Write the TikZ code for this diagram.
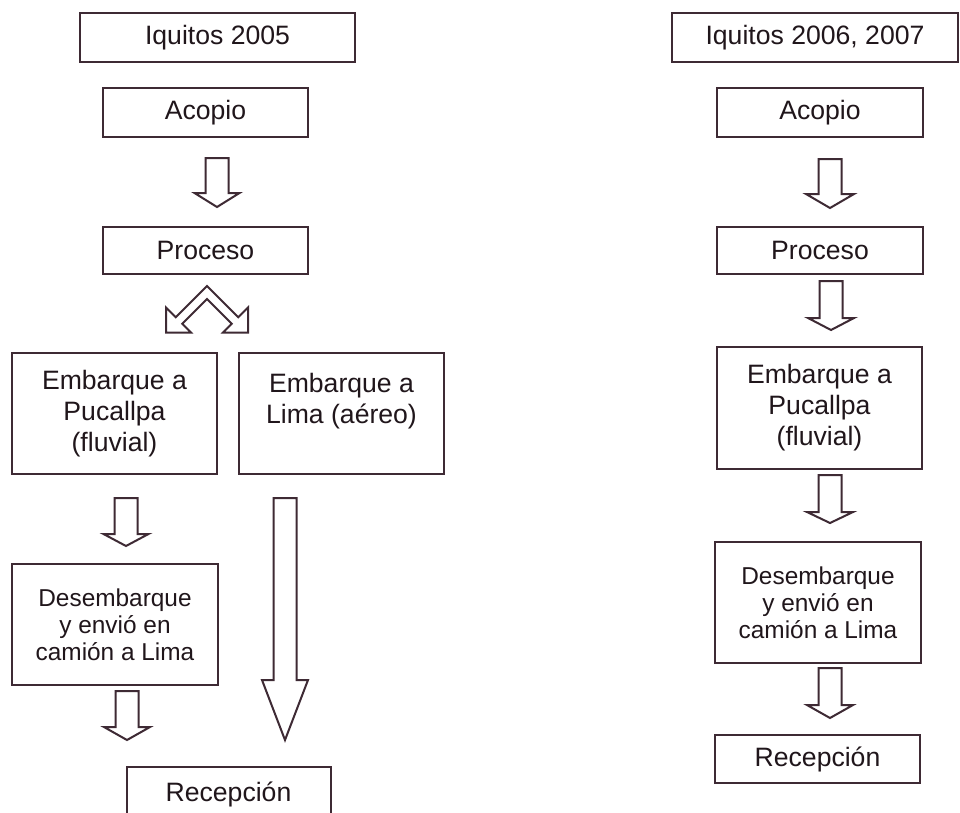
\documentclass[tikz,border=0pt]{standalone}
\usepackage{fontspec}
\setmainfont{Liberation Sans}
\usepackage{tikz}
\definecolor{linea}{RGB}{62,42,52}
\definecolor{texto}{RGB}{32,22,27}
\newcommand{\letra}{\fontsize{26.6}{31}\selectfont}
\newcommand{\letrachica}{\fontsize{24.4}{27}\selectfont}
% hollow block arrow: start, length, head length, head half width
\newcommand{\flecha}[4]{%
  \draw[bloque] (#1) ++(-11.5,0) -- ++(0,{#2-#3}) -- ++({11.5-#4},0) -- ++(#4,#3)
    -- ++(#4,{-#3}) -- ++({11.5-#4},0) -- ++(0,{-(#2-#3)}) -- cycle;}

\begin{document}
\begin{tikzpicture}[x=1pt, y=-1pt,
    caja/.style={draw=linea, line width=2pt, fill=white, text=texto, font=\letra,
      align=center, inner sep=0pt},
    bloque/.style={draw=linea, line width=2pt, fill=white, line join=miter}]
    \useasboundingbox (0,0) rectangle (960,812);
    \clip (0,0) rectangle (960,812);
    \fill[white] (0,0) rectangle (960,812);
    \node[caja, minimum width=275, minimum height=49] (t1) at (217.5, 37.5) {Iquitos 2005};
    \node[caja, minimum width=205, minimum height=49] (a1) at (205.5, 112.5) {Acopio};
    \node[caja, minimum width=205, minimum height=47] (p1) at (205.5, 250.5) {Proceso};
    \node[caja, minimum width=205, minimum height=121] (e1) at (114.5, 413.5) {Embarque a\\Pucallpa\\(fluvial)};
    \node[caja, minimum width=205, minimum height=121] (l1) at (341.5, 413.5) {Embarque a\\Lima (aéreo)\\\mbox{}};
    \node[caja, font=\letrachica, minimum width=206, minimum height=121] (d1) at (115, 624.5) {Desembarque\\y envió en\\camión a Lima};
    \node[caja, minimum width=204, minimum height=55] (r1) at (228.5, 794.5) {Recepción};
    \node[caja, minimum width=286, minimum height=49] (t2) at (815, 37.5) {Iquitos 2006, 2007};
    \node[caja, minimum width=206, minimum height=49] (a2) at (820, 112.5) {Acopio};
    \node[caja, minimum width=206, minimum height=47] (p2) at (820, 250.5) {Proceso};
    \node[caja, minimum width=205, minimum height=122] (e2) at (819.5, 408) {Embarque a\\Pucallpa\\(fluvial)};
    \node[caja, font=\letrachica, minimum width=206, minimum height=121] (d2) at (818, 602.5) {Desembarque\\y envió en\\camión a Lima};
    \node[caja, minimum width=205, minimum height=48] (r2) at (817.5, 759) {Recepción};
    \coordinate (f1) at (217, 158);
    \coordinate (f2) at (126, 498);
    \coordinate (f3) at (127, 691);
    \coordinate (f4) at (285, 498);
    \coordinate (g1) at (830, 159);
    \coordinate (g2) at (831, 281);
    \coordinate (g3) at (830, 475);
    \coordinate (g4) at (830, 668);
    \flecha{f1}{49}{14}{22.5}
    \flecha{f2}{48}{12}{22.5}
    \flecha{f3}{49}{13}{23}
    \flecha{f4}{242}{60}{23}
    \flecha{g1}{49}{14}{24}
    \flecha{g2}{49}{12}{23}
    \flecha{g3}{48}{11}{23}
    \flecha{g4}{50}{13}{23}
    \draw[bloque] (207,286) -- (175.77,317.23) -- (166,307.46) -- (166,332.5) -- (191.04,332.5)
      -- (182.27,323.73) -- (207,299) -- (231.73,323.73) -- (222.96,332.5) -- (248,332.5)
      -- (248,307.46) -- (238.23,317.23) -- cycle;
\end{tikzpicture}
\end{document}
